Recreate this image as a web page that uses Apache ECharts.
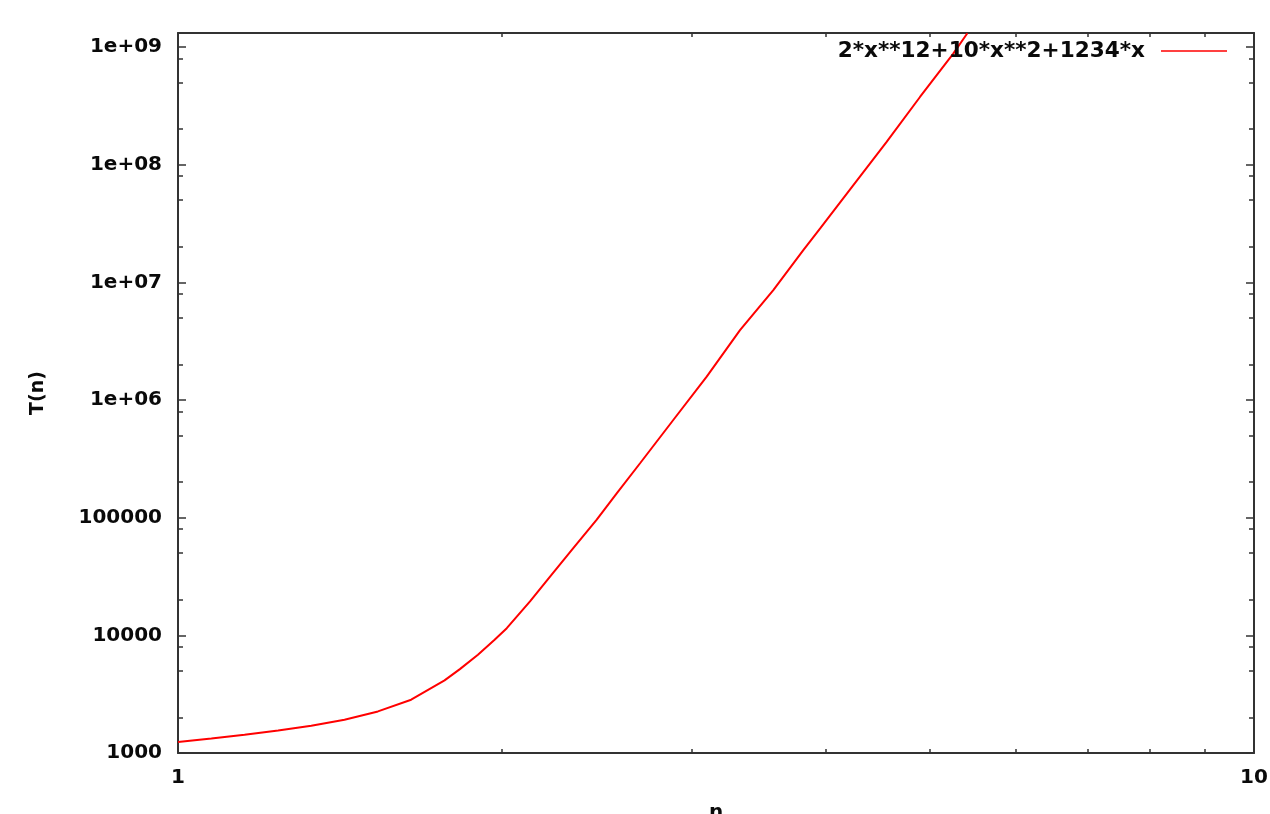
<!DOCTYPE html>
<html><head><meta charset="utf-8">
<script src="https://cdn.jsdelivr.net/npm/echarts@6/dist/echarts.min.js"></script>
<style>html,body{margin:0;padding:0;background:#fff}#c{width:1270px;height:814px}</style>
</head><body><div id="c"></div>
<script>
const seriesName = '2*x**12+10*x**2+1234*x';
const nValues = [1.000, 1.074, 1.153, 1.239, 1.330, 1.428, 1.534, 1.647, 1.769, 1.828, 1.900, 1.969, 2.021, 2.124, 2.217, 2.330, 2.449, 2.557, 2.688, 2.886, 3.100, 3.329, 3.575, 3.812, 3.952, 4.243, 4.556, 4.893, 5.254, 5.415];
const tValues = [1240, 1330, 1430, 1556, 1706, 1918, 2256, 2838, 4140, 5160, 6840, 9160, 11500, 19400, 31600, 55100, 95700, 161000, 290000, 676000, 1580000, 3930000, 8590000, 18800000, 28700000, 67000000, 156000000, 376000000, 879000000, 1310000000];
const xTickValues = [1, 10];
const xTickLabels = ['1', '10'];
const xMinorTicks = [2, 3, 4, 5, 6, 7, 8, 9];
const yTickValues = [1e3, 1e4, 1e5, 1e6, 1e7, 1e8, 1e9];
const yTickLabels = ['1000', '10000', '100000', '1e+06', '1e+07', '1e+08', '1e+09'];
const yMinorTicks = [2e3, 5e3, 8e3, 2e4, 5e4, 8e4, 2e5, 5e5, 8e5, 2e6, 5e6, 8e6, 2e7, 5e7, 8e7, 2e8, 5e8, 8e8];
const yMin = 1000, yMax = 1.315e9, xMin = 1, xMax = 10;

const FONT = 'DejaVu Sans';
const frameColor = '#333333';
const data = nValues.map((n, i) => [n, tValues[i]]);

function labelFor(values, labels) {
  return function (v) {
    for (let i = 0; i < values.length; i++) {
      if (Math.abs(v - values[i]) / values[i] < 1e-6) return labels[i];
    }
    return '';
  };
}
const txt = {fontFamily: FONT, fontWeight: 'bold', fontSize: 20, color: '#0a0a0a'};

function xAx(pos, withLabels) {
  return {
    type: 'log', logBase: 10, min: xMin, max: xMax, position: pos,
    axisLine: {show: true, onZero: false, lineStyle: {color: frameColor, width: 2}},
    axisTick: {show: true, inside: true, length: 4, customValues: xMinorTicks, lineStyle: {color: frameColor, width: 1.5}},
    axisLabel: withLabels ? Object.assign({show: true, margin: 15, customValues: xTickValues, formatter: labelFor(xTickValues, xTickLabels)}, txt) : {show: false},
    splitLine: {show: false},
    name: withLabels ? 'n' : '', nameLocation: 'middle', nameGap: 50,
    nameTextStyle: Object.assign({}, txt)
  };
}
function yAx(pos, major, withLabels) {
  return {
    type: 'log', logBase: 10, min: yMin, max: yMax, position: pos,
    axisLine: {show: major, onZero: false, lineStyle: {color: frameColor, width: 2}},
    axisTick: {show: true, inside: true, length: major ? 8 : 5, customValues: major ? yTickValues : yMinorTicks, lineStyle: {color: frameColor, width: 1.5}},
    axisLabel: withLabels ? Object.assign({show: true, margin: 16, customValues: yTickValues, formatter: labelFor(yTickValues, yTickLabels)}, txt) : {show: false},
    splitLine: {show: false},
    name: withLabels ? 'T(n)' : '', nameLocation: 'middle', nameGap: 130, nameRotate: 90,
    nameTextStyle: Object.assign({}, txt, {fontSize: 19})
  };
}

const chart = echarts.init(document.getElementById('c'), null, {renderer: 'canvas'});
chart.setOption({
  backgroundColor: '#ffffff',
  animation: false,
  grid: {left: 178, right: 16, top: 33, bottom: 61, containLabel: false, outerBoundsMode: 'none'},
  legend: {
    show: true, right: 43, top: 40, align: 'right', itemWidth: 66, itemHeight: 14, padding: 0,
    textStyle: Object.assign({}, txt, {fontSize: 21.6, padding: [0, 11, 0, 0]}),
    data: [{name: seriesName, icon: 'path://M0,0L100,0L100,2L0,2Z', itemStyle: {color: '#ff0000'}}]
  },
  xAxis: [xAx('bottom', true), xAx('top', false)],
  yAxis: [yAx('left', true, true), yAx('left', false, false), yAx('right', true, false), yAx('right', false, false)],
  series: [{
    name: seriesName, type: 'line', xAxisIndex: 0, yAxisIndex: 0,
    data: data, symbol: 'none', showSymbol: false, smooth: false, clip: true,
    lineStyle: {color: '#ff0000', width: 2}, itemStyle: {color: '#ff0000'}
  }]
});
</script></body></html>
